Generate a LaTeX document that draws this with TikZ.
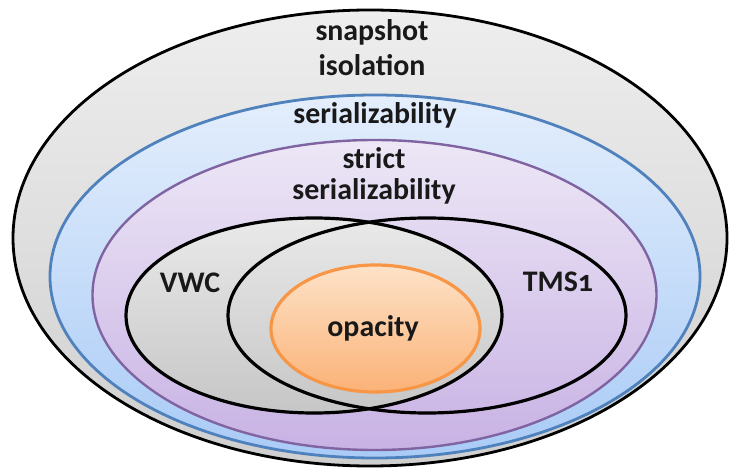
\documentclass[tikz,border=0pt]{standalone}
\usepackage{fontspec}
\setmainfont{Carlito}[Numbers=OldStyle]
\usepackage{tikz}
\usetikzlibrary{shapes.geometric}
\usepackage{xcolor}
\definecolor{snapTop}{HTML}{EEEEEE}
\definecolor{snapBot}{HTML}{CFCFCF}
\definecolor{serTop}{HTML}{E4EEFC}
\definecolor{serBot}{HTML}{A9CBF6}
\definecolor{serLine}{HTML}{4F81BD}
\definecolor{strTop}{HTML}{EDE7F6}
\definecolor{strBot}{HTML}{C8B2E4}
\definecolor{strLine}{HTML}{8064A2}
\definecolor{vwcTop}{HTML}{E9E9E9}
\definecolor{vwcBot}{HTML}{C6C6C6}
\definecolor{opaTop}{HTML}{FDE2C8}
\definecolor{opaBot}{HTML}{FBB277}
\definecolor{opaLine}{HTML}{F79646}
\tikzset{
  set/.style={ellipse, draw, inner sep=0pt, line width=2.8bp},
  setname/.style={font=\bfseries\fontsize{30}{35}\selectfont, text=black!90,
    align=center, anchor=base}
}

\begin{document}
\begin{tikzpicture}[x=1bp,y=-1bp]
\useasboundingbox (0,0) rectangle (729,469);
% nested classes
\node[set, minimum width=714bp, minimum height=456bp,
  top color=snapTop, bottom color=snapBot] (snap) at (370,238) {};
\node[set, draw=serLine, minimum width=650bp, minimum height=363bp,
  top color=serTop, bottom color=serBot] (ser) at (375,276.5) {};
\node[set, draw=strLine, line width=2.4bp, minimum width=564bp, minimum height=310bp,
  top color=strTop, bottom color=strBot] (strict) at (374.5,295) {};
% the two overlapping classes
\node[set, line width=3.2bp, minimum width=376bp, minimum height=195bp,
  top color=vwcTop, bottom color=vwcBot] (vwc) at (314,315.5) {};
\node[set, line width=3.2bp, minimum width=398bp, minimum height=195bp] (tms) at (427,315.5) {};
\node[set, draw=opaLine, line width=3.2bp, minimum width=209bp, minimum height=127bp,
  top color=opaTop, bottom color=opaBot] (opa) at (375.5,328.5) {};
% labels (base = last line)
\node[setname] (snaplbl) at (372,76) {snapshot\\[1bp]isolation};
\node[setname] (serlbl) at (375,124) {serializability};
\node[setname] (strictlbl) at (374,200) {strict\\[-3bp]serializability};
\node[setname] (vwclbl) at (190,293) {VWC};
\node[setname] (tmslbl) at (558,292) {TMS1};
\node[setname] (opalbl) at (373,337) {opacity};
\end{tikzpicture}
\end{document}
